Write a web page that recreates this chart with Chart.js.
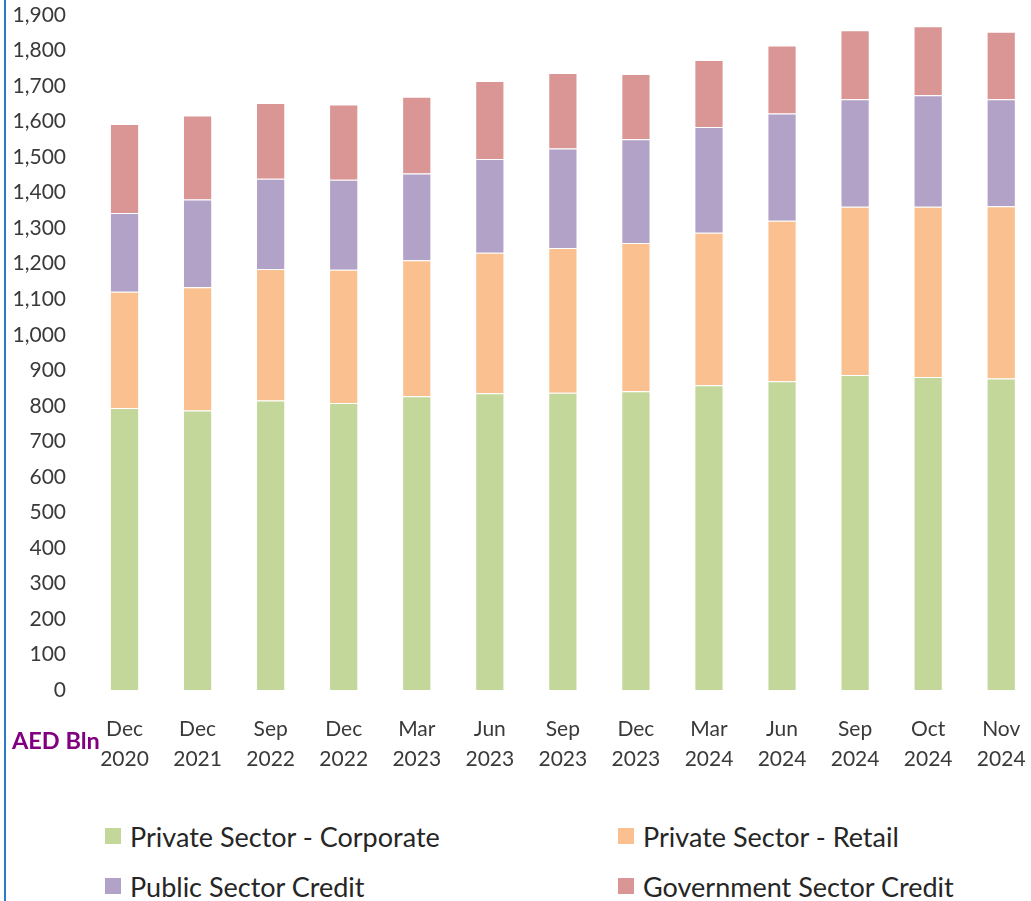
<!DOCTYPE html>
<html>
<head>
<meta charset="utf-8">
<script src="https://cdn.jsdelivr.net/npm/chart.js@4.4.1/dist/chart.umd.min.js"></script>
<style>
  html, body { margin: 0; padding: 0; background: #fff; overflow: hidden; }
  #wrap { position: relative; width: 1031px; height: 901px; overflow: hidden; }
  #edge { position: absolute; left: 4px; top: 0; width: 2px; height: 901px; background: #2b7bc9; }
  #chart { position: absolute; left: 0; top: 0; }
  .item { position: absolute; display: flex; align-items: center; font: 27px Lato, sans-serif; color: #262626; white-space: nowrap; }
  .box { width: 16px; height: 16px; margin-right: 9px; }
</style>
</head>
<body>
<div id="wrap">
  <div id="edge"></div>
  <canvas id="chart" width="1050" height="800"></canvas>
  <div id="legend"></div>
</div>
<script>
const categories = [
  ["Dec", "2020"], ["Dec", "2021"], ["Sep", "2022"], ["Dec", "2022"], ["Mar", "2023"],
  ["Jun", "2023"], ["Sep", "2023"], ["Dec", "2023"], ["Mar", "2024"], ["Jun", "2024"],
  ["Sep", "2024"], ["Oct", "2024"], ["Nov", "2024"]
];
const corporate = [794, 787, 815, 808, 827, 835, 837, 841, 858, 869, 887, 881, 877];
const retail = [327, 347, 370, 375, 383, 396, 407, 417, 429, 452, 473, 479, 485];
const publicSector = [222, 247, 254, 253, 244, 264, 280, 292, 298, 302, 303, 314, 301];
const government = [250, 236, 213, 212, 216, 219, 213, 184, 188, 191, 194, 194, 190];
const yMax = 1900;
const yStep = 100;
const unitLabel = "AED Bln";

const seriesNames = ["Private Sector - Corporate", "Private Sector - Retail", "Public Sector Credit", "Government Sector Credit"];
const seriesColors = ["#c4d79b", "#fac090", "#b3a2c7", "#d99694"];
const seriesData = [corporate, retail, publicSector, government];

const unitPlugin = {
  id: "unitLabel",
  afterDraw(chart) {
    const ctx = chart.ctx;
    ctx.save();
    ctx.font = "bold 23.5px Lato, sans-serif";
    ctx.fillStyle = "#800080";
    ctx.textBaseline = "middle";
    ctx.textAlign = "left";
    ctx.fillText(unitLabel, 12, 741);
    ctx.restore();
  }
};

const ctx = document.getElementById("chart").getContext("2d");
const chart = new Chart(ctx, {
  type: "bar",
  data: {
    labels: categories,
    datasets: seriesData.map((d, i) => ({
      label: seriesNames[i],
      data: d,
      backgroundColor: seriesColors[i],
      borderColor: "rgba(255,255,255,0.6)",
      borderWidth: 1,
      barPercentage: 0.5,
      categoryPercentage: 0.8
    }))
  },
  options: {
    responsive: false,
    animation: false,
    layout: { padding: { top: 15, right: 11, left: 0, bottom: 0 } },
    plugins: { legend: { display: false }, tooltip: { enabled: false } },
    scales: {
      x: {
        stacked: true,
        grid: { display: false, drawTicks: false },
        border: { display: false },
        ticks: {
          autoSkip: false,
          maxRotation: 0,
          padding: 24,
          color: "#3a3a3a",
          font: { family: "Lato", size: 21, lineHeight: 1.45 }
        },
        afterFit(scale) { scale.height = 110; }
      },
      y: {
        stacked: true,
        min: 0,
        max: yMax,
        // ticks are not drawn; the tick length only spaces the labels from the bars
        grid: { display: false, drawTicks: true, tickLength: 22 },
        border: { display: false },
        ticks: {
          stepSize: yStep,
          padding: 0,
          color: "#3a3a3a",
          font: { family: "Lato", size: 21 },
          callback: v => v.toLocaleString("en-US")
        },
        afterFit(scale) { scale.width = 88; }
      }
    }
  },
  plugins: [unitPlugin]
});

// legend in two columns
const legend = document.getElementById("legend");
const spots = [[105, 836], [618, 836], [105, 886], [618, 886]];
chart.data.datasets.forEach((ds, i) => {
  const el = document.createElement("div");
  el.className = "item";
  el.style.left = spots[i][0] + "px";
  el.style.top = (spots[i][1] - 16) + "px";
  el.style.height = "32px";
  el.innerHTML = '<span class="box" style="background:' + ds.backgroundColor + '"></span>' + ds.label;
  legend.appendChild(el);
});
</script>
</body>
</html>
